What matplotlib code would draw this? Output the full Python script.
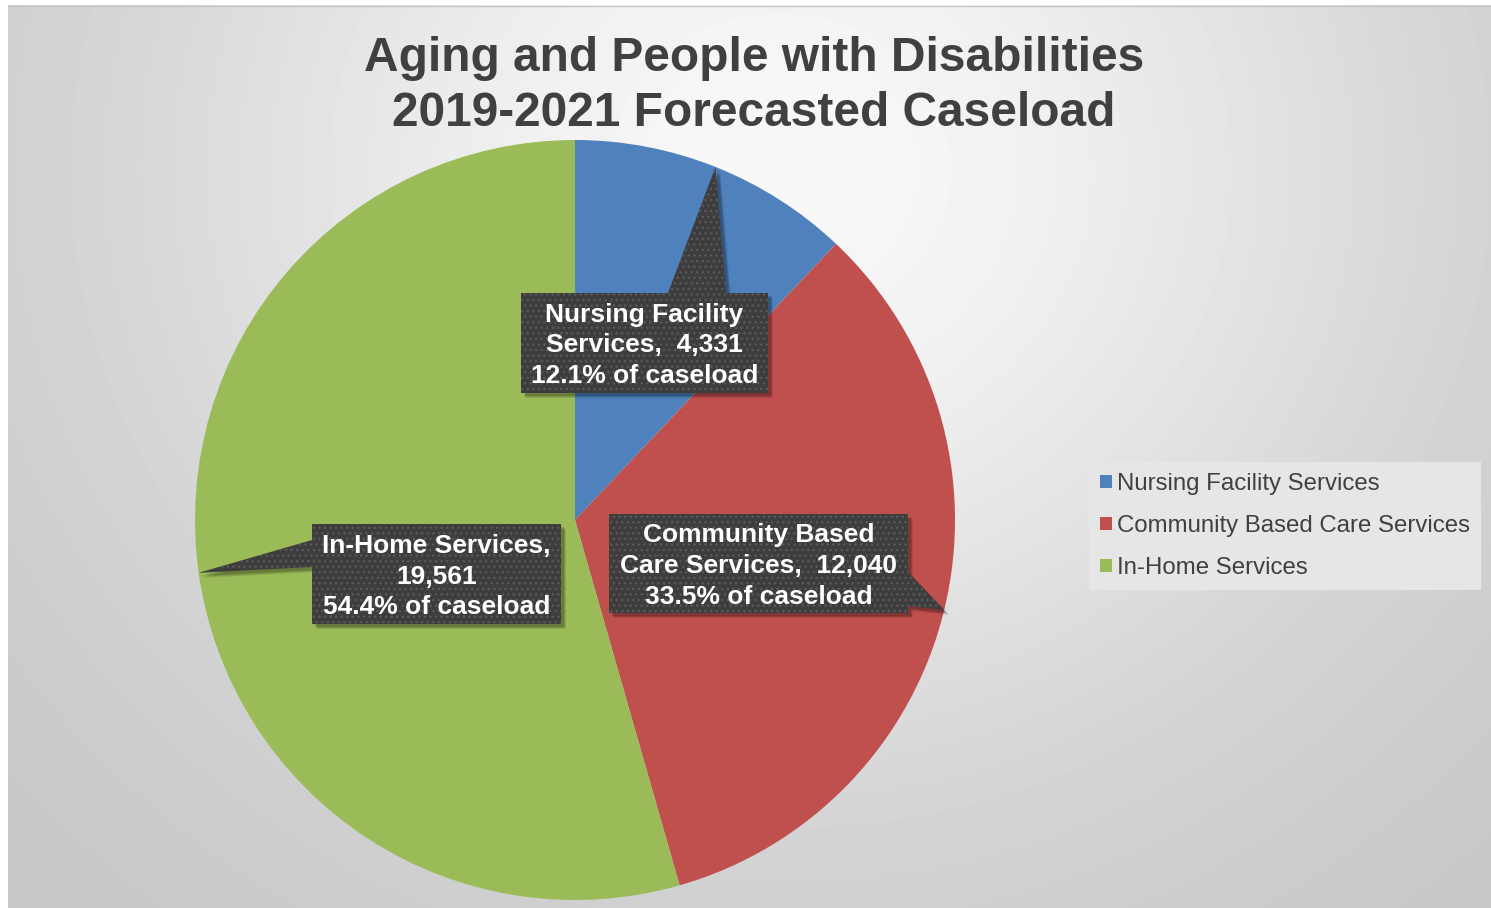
import numpy as np
import matplotlib.pyplot as plt
from matplotlib.patches import Polygon

# chart data
categories = ['Nursing Facility Services', 'Community Based Care Services',
              'In-Home Services']
caseload = [4331, 12040, 19561]
# how each callout breaks the category name over its lines
callout_names = ['Nursing Facility\nServices', 'Community Based\nCare Services',
                 'In-Home Services']
callout_joins = [',  ', ',  ', ',\n']
colors = ['#4F81BD', '#C0504D', '#9BBB59']
title = 'Aging and People with Disabilities\n2019-2021 Forecasted Caseload'

W, H = 1491, 908

# callout boxes (left, top, right, bottom) in pixels from the top left,
# the side the pointer leaves from and where it starts along that side
boxes = [(521, 293, 768, 393), (609, 514, 908, 613), (312, 524, 561, 624)]
pointer_sides = ['top', 'right', 'left']
pointer_bases = [(668, 726), (572, 606), (540, 567)]


def callout_outline(box, side, base, tip):
    """Return the outline of a box with a pointer, in y-up pixels."""
    l, t, r, b = box
    a, c = base
    if side == 'top':
        pts = [(l, t), (a, t), tip, (c, t), (r, t), (r, b), (l, b)]
    elif side == 'right':
        pts = [(l, t), (r, t), (r, a), tip, (r, c), (r, b), (l, b)]
    else:
        pts = [(l, t), (r, t), (r, b), (l, b), (l, c), tip, (l, a)]
    return [(x, H - y) for x, y in pts]


plt.rcParams['font.family'] = ['Liberation Sans', 'DejaVu Sans']
fig = plt.figure(figsize=(W / 100, H / 100), dpi=100)
ax = fig.add_axes([0, 0, 1, 1])

# grey radial background, lightest behind the title
yy, xx = np.mgrid[5:H, 8:W]
d = np.sqrt(((xx - 780) / 820.0) ** 2 + ((yy - 170) / 760.0) ** 2)
shade = 0.77 + 0.2 * np.exp(-(d / 0.8) ** 2)
ax.imshow(shade, cmap='gray', vmin=0, vmax=1, extent=(8, W, 0, H - 5),
          origin='upper', aspect='auto', zorder=0)
ax.plot([8, W], [H - 5.5, H - 5.5], color='#c4c4c4', lw=1, zorder=1)

# pie
wedges, _ = ax.pie(caseload, colors=colors, startangle=90,
                   counterclock=False, center=(575, H - 520), radius=380,
                   frame=False)
for w in wedges:
    w.set_zorder(2)

total = sum(caseload)
for i, w in enumerate(wedges):
    mid = np.deg2rad((w.theta1 + w.theta2) / 2)
    tx = w.center[0] + w.r * np.cos(mid)
    ty = w.center[1] + w.r * np.sin(mid)
    outline = callout_outline(boxes[i], pointer_sides[i], pointer_bases[i],
                              (tx, H - ty))
    # soft shadow
    for off, alpha in [(5, 0.10), (4, 0.12), (3, 0.15)]:
        ax.add_patch(Polygon([(x + off, y - off) for x, y in outline],
                             closed=True, facecolor='black', alpha=alpha,
                             edgecolor='none', zorder=3))
    ax.add_patch(Polygon(outline, closed=True, facecolor='#3d3d3d',
                         edgecolor='none', zorder=4))
    ax.add_patch(Polygon(outline, closed=True, fill=False, hatch='...',
                         edgecolor='#595959', lw=0, zorder=5))
    l, t, r, b = boxes[i]
    pct = caseload[i] / total * 100
    label = '%s%s%s\n%.1f%% of caseload' % (
        callout_names[i], callout_joins[i], format(caseload[i], ','), pct)
    ax.text((l + r) / 2, H - (t + b) / 2 - 2.5, label, ha='center',
            va='center', color='white', fontsize=19, fontweight='bold',
            linespacing=1.36, zorder=6)

# title
ax.text(754, H - 86, title, ha='center', va='center', fontsize=34.5,
        fontweight='bold', color='#404040', linespacing=1.27, zorder=6)

# legend
leg = ax.legend(wedges, categories, loc='center left',
                bbox_to_anchor=(1089, H - 526), bbox_transform=ax.transData,
                fontsize=17.3, frameon=True, fancybox=False, borderpad=0.45,
                labelspacing=0.83, handlelength=0.5, handleheight=0.5,
                handletextpad=0.22, borderaxespad=0)
leg.get_frame().set_facecolor('#e6e6e6')
leg.get_frame().set_edgecolor('none')
leg.get_frame().set_alpha(1)
for txt in leg.get_texts():
    txt.set_color('#404040')

ax.set_xlim(0, W)
ax.set_ylim(0, H)
ax.set_aspect('auto')
ax.axis('off')

fig.savefig('out.png', dpi=100, facecolor='white')
